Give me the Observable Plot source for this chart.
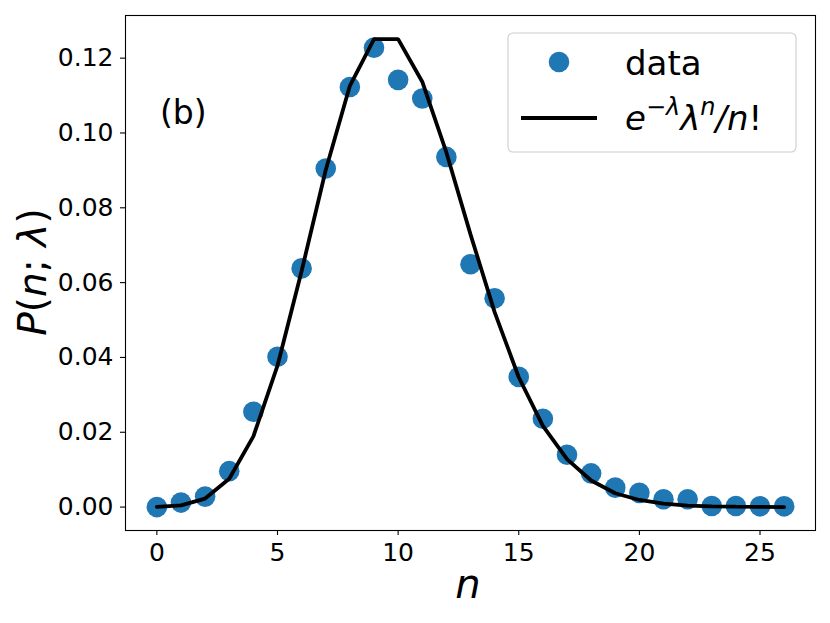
<!DOCTYPE html>
<html>
<head>
<meta charset="utf-8">
<script src="https://cdn.jsdelivr.net/npm/d3@7"></script>
<script src="https://cdn.jsdelivr.net/npm/@observablehq/plot@0.6"></script>
<style>
  html, body { margin: 0; padding: 0; background: #fff; }
  #chart svg { display: block; }
</style>
</head>
<body>
<div id="chart"></div>
<script>
// n values
const nValues = [0,1,2,3,4,5,6,7,8,9,10,11,12,13,14,15,16,17,18,19,20,21,22,23,24,25,26];
// observed frequencies (blue dots)
const observed = [0.0000, 0.0012, 0.0028, 0.0096, 0.0255, 0.0402, 0.0638, 0.0905, 0.1123, 0.1228,
                  0.1142, 0.1092, 0.0936, 0.0649, 0.0558, 0.0348, 0.0236, 0.0140, 0.0090, 0.0052,
                  0.0038, 0.0021, 0.0021, 0.0003, 0.0003, 0.0002, 0.0002];
// Poisson curve values (black line)
const poisson = [0.0000454, 0.000454, 0.00227, 0.00757, 0.0189, 0.0378, 0.0631, 0.0901, 0.1126, 0.1251,
                 0.1251, 0.1137, 0.0948, 0.0729, 0.0521, 0.0347, 0.0217, 0.0128, 0.0071, 0.0037,
                 0.0019, 0.0009, 0.0004, 0.0002, 0.0001, 0.00004, 0.00001];
const xTicks = [0, 5, 10, 15, 20, 25];
const yTicks = [0.00, 0.02, 0.04, 0.06, 0.08, 0.10, 0.12];

const dotData = nValues.map((n, i) => ({n, p: observed[i]}));
const lineData = nValues.map((n, i) => ({n, p: poisson[i]}));

const W = 830, H = 623;
const mL = 125, mR = 15, mT = 15, mB = 93;

const chart = Plot.plot({
  width: W,
  height: H,
  marginLeft: mL,
  marginRight: mR,
  marginTop: mT,
  marginBottom: mB,
  style: {fontFamily: "DejaVu Sans", fontSize: "25px", color: "black", background: "white"},
  x: {domain: [-1.3, 27.3], ticks: xTicks, tickFormat: d3.format("d"), label: null},
  y: {domain: [-0.00626, 0.1314], ticks: yTicks, tickFormat: d3.format(".2f"), label: null},
  marks: [
    Plot.dot(dotData, {x: "n", y: "p", r: 10.3, fill: "#1f77b4", stroke: "none"}),
    Plot.line(lineData, {x: "n", y: "p", stroke: "black", strokeWidth: 3.8, strokeLinejoin: "miter"}),
    Plot.axisX({ticks: xTicks, tickSize: 5, tickPadding: 8, strokeWidth: 1.1, fontSize: 25, label: null}),
    Plot.axisY({ticks: yTicks, tickSize: 5, tickPadding: 7, strokeWidth: 1.1, fontSize: 25, label: null, tickFormat: d3.format(".2f")}),
    Plot.frame({stroke: "black", strokeWidth: 1.1})
  ]
});

document.getElementById("chart").appendChild(chart);

const svg = d3.select(chart);
const FF = "DejaVu Sans";

// (b) annotation
svg.append("text")
  .attr("x", 160).attr("y", 124)
  .attr("text-anchor", "start")
  .attr("font-family", FF).attr("font-size", 33).attr("fill", "black")
  .text("(b)");

// x label
svg.append("text")
  .attr("x", 468).attr("y", 598)
  .attr("text-anchor", "middle")
  .attr("font-family", FF).attr("font-size", 40).attr("font-style", "italic").attr("fill", "black")
  .text("n");

// y label
const yl = svg.append("text")
  .attr("transform", "translate(46,272) rotate(-90)")
  .attr("text-anchor", "middle")
  .attr("font-family", FF).attr("font-size", 39).attr("fill", "black");
yl.append("tspan").attr("font-style", "italic").text("P");
yl.append("tspan").text("(");
yl.append("tspan").attr("font-style", "italic").text("n");
yl.append("tspan").text("; ");
yl.append("tspan").attr("font-style", "italic").text("λ");
yl.append("tspan").text(")");

// legend
const lg = svg.append("g").attr("text-anchor", "start");
lg.append("rect")
  .attr("x", 508).attr("y", 33).attr("width", 288).attr("height", 119)
  .attr("rx", 5).attr("fill", "white").attr("fill-opacity", 0.8)
  .attr("stroke", "#cccccc").attr("stroke-width", 1.1);
lg.append("circle").attr("cx", 559).attr("cy", 62).attr("r", 10.3).attr("fill", "#1f77b4");
lg.append("line").attr("x1", 521).attr("x2", 597).attr("y1", 118).attr("y2", 118)
  .attr("stroke", "black").attr("stroke-width", 3.8);
lg.append("text").attr("x", 625).attr("y", 75).attr("text-anchor", "start")
  .attr("font-family", FF).attr("font-size", 34).attr("fill", "black").text("data");
const t2 = lg.append("text").attr("x", 625).attr("y", 130).attr("text-anchor", "start")
  .attr("font-family", FF).attr("font-size", 34).attr("fill", "black");
t2.append("tspan").attr("font-style", "italic").text("e");
t2.append("tspan").attr("font-size", 24).attr("dy", -15).text("−");
t2.append("tspan").attr("font-size", 24).attr("font-style", "italic").text("λ");
t2.append("tspan").attr("dy", 15).attr("font-style", "italic").text("λ");
t2.append("tspan").attr("font-size", 24).attr("dy", -15).attr("font-style", "italic").text("n");
t2.append("tspan").attr("dy", 15).attr("font-style", "italic").text("/n");
t2.append("tspan").text("!");
</script>
</body>
</html>
